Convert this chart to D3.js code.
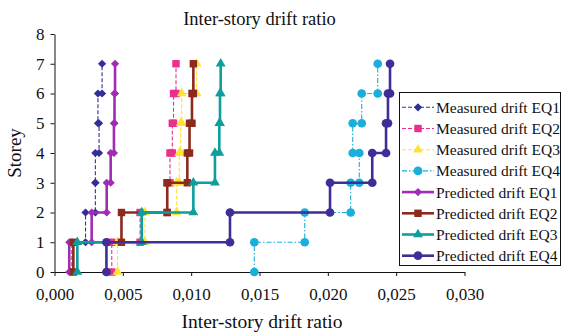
<!DOCTYPE html>
<html><head><meta charset="utf-8">
<script src="https://cdn.jsdelivr.net/npm/d3@7/dist/d3.min.js"></script>
<style>
html,body{margin:0;padding:0;background:#fff;}
svg{display:block;font-family:"Liberation Serif","Times New Roman",serif;}
</style></head>
<body>
<svg id="chart" width="562" height="334"></svg>
<script>
// ---- data ----
const storeys = [1, 2, 3, 4, 5, 6, 7];
const xTicks = [0, 0.005, 0.010, 0.015, 0.020, 0.025, 0.030];
const yTicks = [0, 1, 2, 3, 4, 5, 6, 7, 8];
const seriesNames = ["Measured drift EQ1","Measured drift EQ2","Measured drift EQ3","Measured drift EQ4",
                     "Predicted drift EQ1","Predicted drift EQ2","Predicted drift EQ3","Predicted drift EQ4"];
const measuredEQ1  = [0.00128, 0.00227, 0.00299, 0.00299, 0.00326, 0.00318, 0.00348];
const measuredEQ2  = [0.00419, 0.00626, 0.00823, 0.00845, 0.00862, 0.00871, 0.00889];
const measuredEQ3  = [0.00461, 0.00662, 0.00894, 0.00913, 0.00923, 0.00931, 0.01040];
const measuredEQ4  = [0.01462, 0.01831, 0.02167, 0.02230, 0.02182, 0.02248, 0.02365];
const predictedEQ1 = [0.00108, 0.00272, 0.00382, 0.00411, 0.00435, 0.00439, 0.00443];
const predictedEQ2 = [0.00138, 0.00490, 0.00825, 0.00972, 0.00988, 0.01006, 0.01016];
const predictedEQ3 = [0.00167, 0.00638, 0.01016, 0.01174, 0.01206, 0.01211, 0.01216];
const predictedEQ4 = [0.00380, 0.01284, 0.02016, 0.02325, 0.02426, 0.02440, 0.02455];

// ---- styles ----
const styles = [
  {color:"#332f9a", shape:"diamond", dash:"4,2",     width:1.1},
  {color:"#e8308c", shape:"square",  dash:"4,2",     width:1.1},
  {color:"#ffe234", shape:"triangle",dash:"4,2",     width:1.1},
  {color:"#1aafdb", shape:"circle",  dash:"5,2,1.5,2", width:1.1},
  {color:"#a02cb4", shape:"diamond", dash:null,      width:2.6},
  {color:"#8c2a1e", shape:"square",  dash:null,      width:2.6},
  {color:"#0e9e9e", shape:"triangle",dash:null,      width:2.6},
  {color:"#3f2e98", shape:"circle",  dash:null,      width:2.6}
];
const allSeries = [measuredEQ1, measuredEQ2, measuredEQ3, measuredEQ4,
                   predictedEQ1, predictedEQ2, predictedEQ3, predictedEQ4];

const svg = d3.select("#chart");
const x = d3.scaleLinear().domain([0, 0.03]).range([54.5, 464.5]);
const y = d3.scaleLinear().domain([0, 8]).range([272, 34]);

function symbolPath(shape){
  if (shape === "diamond") return d3.symbol(d3.symbolSquare, 34)();
  if (shape === "square") return d3.symbol(d3.symbolSquare, 55)();
  if (shape === "triangle") return d3.symbol(d3.symbolTriangle, 42)();
  return d3.symbol(d3.symbolCircle, 60)();
}
function symbolRot(shape){ return shape === "diamond" ? " rotate(45)" : ""; }

// axes
const fmt = v => d3.format(".3f")(v).replace(".", ",");
const gx = svg.append("g").attr("transform", `translate(0,${y(0)})`)
  .call(d3.axisBottom(x).tickValues(xTicks).tickFormat(fmt).tickSize(4).tickSizeOuter(0));
gx.selectAll("text").attr("y", 28).attr("dy", 0).style("font-size", "17px")
  .style("font-family", "'Liberation Serif',serif").attr("fill", "#111");
const gy = svg.append("g").attr("transform", `translate(${x(0)},0)`)
  .call(d3.axisLeft(y).tickValues(yTicks).tickFormat(d3.format("d")).tickSize(4).tickPadding(6).tickSizeOuter(0));
gy.selectAll("text").style("font-size", "17px").style("font-family", "'Liberation Serif',serif").attr("fill", "#111");
svg.selectAll(".domain, .tick line").attr("stroke", "#111").attr("stroke-width", 1);

// series
const line = d3.line().x(d => x(d[0])).y(d => y(d[1]));
allSeries.forEach((vals, si) => {
  const st = styles[si];
  const pts = [];
  vals.forEach((v, i) => { pts.push([v, storeys[i] - 1]); pts.push([v, storeys[i]]); });
  const g = svg.append("g");
  g.append("path").attr("d", line(pts)).attr("fill", "none")
    .attr("stroke", st.color).attr("stroke-width", st.width)
    .attr("stroke-dasharray", st.dash);
  g.selectAll("path.m").data(pts).enter().append("path").attr("class", "m")
    .attr("d", symbolPath(st.shape))
    .attr("transform", d => `translate(${x(d[0])},${y(d[1])})${symbolRot(st.shape)}`)
    .attr("fill", st.color);
});

// titles
svg.append("text").attr("x", 259.5).attr("y", 25).attr("text-anchor", "middle")
  .style("font-size", "18.5px").attr("fill", "#111").text("Inter-story drift ratio");
svg.append("text").attr("x", 262).attr("y", 328).attr("text-anchor", "middle")
  .style("font-size", "19.5px").attr("fill", "#111").text("Inter-story drift ratio");
svg.append("text").attr("transform", "translate(21,153) rotate(-90)").attr("text-anchor", "middle")
  .style("font-size", "19px").attr("fill", "#111").text("Storey");

// legend
const lg = svg.append("g");
lg.append("rect").attr("x", 399.5).attr("y", 92.5).attr("width", 161).attr("height", 173)
  .attr("fill", "#fff").attr("stroke", "#111").attr("stroke-width", 1);
seriesNames.forEach((name, i) => {
  const st = styles[i];
  const cy = 107.3 + 21.2 * i;
  lg.append("line").attr("x1", 402).attr("x2", 434).attr("y1", cy).attr("y2", cy)
    .attr("stroke", st.color).attr("stroke-width", st.width).attr("stroke-dasharray", st.dash);
  lg.append("path").attr("d", symbolPath(st.shape))
    .attr("transform", `translate(418,${cy})${symbolRot(st.shape)}`).attr("fill", st.color);
  lg.append("text").attr("x", 436).attr("y", cy).attr("dy", "0.35em")
    .style("font-size", "15.5px").attr("fill", "#111").text(name);
});
</script>
</body></html>
